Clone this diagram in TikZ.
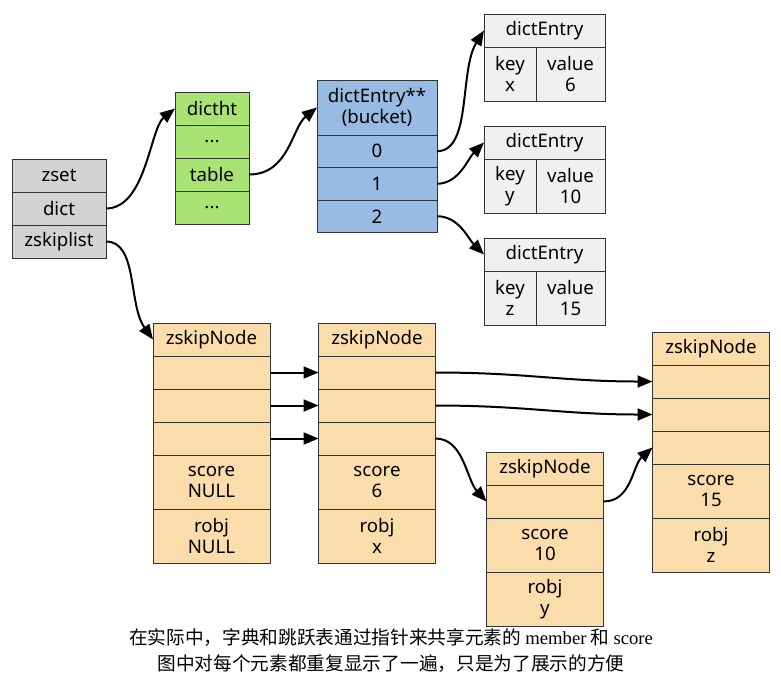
\documentclass[tikz,border=0pt]{standalone}
\usepackage{fontspec}
\setmainfont{Noto Sans}
\newfontfamily\cjk{Noto Sans CJK SC}
\newfontfamily\tnr{Liberation Serif}
\definecolor{zsgray}{RGB}{211,211,211}
\definecolor{htgreen}{RGB}{169,227,115}
\definecolor{bkblue}{RGB}{151,187,227}
\definecolor{entgray}{RGB}{240,240,240}
\definecolor{skipwheat}{RGB}{250,221,171}
\definecolor{edgegray}{RGB}{51,51,51}
\usetikzlibrary{arrows.meta,positioning}

\tikzset{
  cell/.style={draw=edgegray,line width=1pt,inner sep=0pt,outer sep=0pt,align=center,
    font=\fontsize{18.67}{21}\selectfont},
  zsbox/.style={cell,fill=zsgray,minimum width=94pt,minimum height=33pt},
  htbox/.style={cell,fill=htgreen,minimum width=74pt,minimum height=33pt},
  bkbox/.style={cell,fill=bkblue,minimum width=120pt,minimum height=32.5pt},
  entbox/.style={cell,fill=entgray,minimum width=121pt,minimum height=33pt},
  skipbox/.style={cell,fill=skipwheat,minimum width=117pt,minimum height=33pt},
  ptr/.style={-{Triangle[length=15pt,width=12pt]},line width=2pt},
}

\begin{document}
\begin{tikzpicture}[x=1pt,y=-1pt]
  \useasboundingbox (0,0) rectangle (781,686);

  % zset
  \node[zsbox] (zset) at (59,175.5) {zset};
  \node[zsbox,below=0pt of zset] (zdict) {dict};
  \node[zsbox,below=0pt of zdict] (zlist) {zskiplist};

  % dictht
  \node[htbox] (ht) at (212,108.5) {dictht};
  \node[htbox,below=0pt of ht] (htA) {...};
  \node[htbox,below=0pt of htA] (httable) {table};
  \node[htbox,below=0pt of httable] (htB) {...};

  % bucket array
  \node[bkbox,minimum height=55pt] (bucket) at (377,107.5) {dictEntry**\\(bucket)};
  \node[bkbox,below=0pt of bucket] (b0) {0};
  \node[bkbox,below=0pt of b0] (b1) {1};
  \node[bkbox,below=0pt of b1] (b2) {2};

  % dict entries
  \foreach \i/\t/\k/\v in {1/30.5/x/6,2/142.5/y/10,3/254.5/z/15}{
    \node[entbox] (e\i) at (544.5,\t) {dictEntry};
    \node[entbox,minimum width=52pt,minimum height=54pt,anchor=north west] (k\i) at (e\i.south west) {key\\\k};
    \node[entbox,minimum width=69pt,minimum height=54pt,anchor=north east] (v\i) at (e\i.south east) {value\\\v};
  }

  % skiplist nodes
  \foreach \n/\x/\y/\s/\o in {na/211.5/339.5/NULL/NULL,nb/377/339.5/6/x,nd/711/348.5/15/z}{
    \node[skipbox] (\n) at (\x,\y) {zskipNode};
    \node[skipbox,below=0pt of \n] (\n1) {};
    \node[skipbox,below=0pt of \n1] (\n2) {};
    \node[skipbox,below=0pt of \n2] (\n3) {};
    \node[skipbox,minimum height=54pt,below=0pt of \n3] (\n score) {score\\\s};
    \node[skipbox,minimum height=54pt,below=0pt of \n score] (\n obj) {robj\\\o};
  }
  \node[skipbox] (nc) at (545,468.5) {zskipNode};
  \node[skipbox,below=0pt of nc] (nc1) {};
  \node[skipbox,minimum height=54pt,below=0pt of nc1] (ncscore) {score\\10};
  \node[skipbox,minimum height=54pt,below=0pt of ncscore] (ncobj) {robj\\y};

  % pointers
  \draw[ptr] (zdict.east) .. controls +(40,0) and +(-25,20) .. (ht.west);
  \draw[ptr] (httable.east) .. controls +(40,0) and +(-25,20) .. (bucket.west);
  \draw[ptr] (b0.east) .. controls +(35,0) and +(-25,40) .. (e1.west);
  \draw[ptr] (b1.east) .. controls +(22,0) and +(-16,16) .. (e2.west);
  \draw[ptr] (b2.east) .. controls +(22,0) and +(-16,-16) .. (e3.west);
  \draw[ptr] (zlist.east) .. controls +(32,0) and +(-25,-35) .. (na.west);
  \foreach \i in {1,2,3}{\draw[ptr] (na\i.east) -- (nb\i.west);}
  \draw[ptr] (nb1.east) .. controls +(90,0) and +(-90,0) .. (nd1.west);
  \draw[ptr] (nb2.east) .. controls +(90,0) and +(-90,0) .. (nd2.west);
  \draw[ptr] (nb3.east) .. controls +(28,0) and +(-20,-22) .. (nc1.west);
  \draw[ptr] (nc1.east) .. controls +(28,0) and +(-20,18) .. (nd3.west);

  \node[font=\cjk\fontsize{18.67}{26}\selectfont,align=center] (note) at (391,651)
    {在实际中，字典和跳跃表通过指针来共享元素的 {\tnr member} 和 {\tnr score}\\
     图中对每个元素都重复显示了一遍，只是为了展示的方便};
\end{tikzpicture}
\end{document}
